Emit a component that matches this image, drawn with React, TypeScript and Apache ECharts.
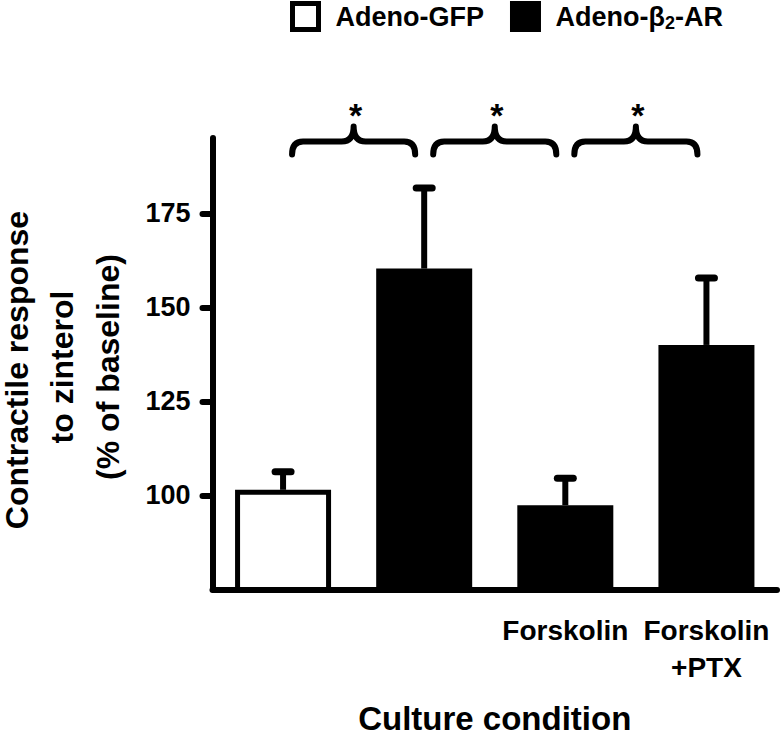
import React, { useEffect, useRef } from "react";
import * as echarts from "echarts";

const FONT = "'Liberation Sans', Arial, Helvetica, sans-serif";

const categories = ["", "", "Forskolin", "Forskolin\n+PTX"];
const seriesNames = ["Adeno-GFP", "Adeno-β2-AR"];
const gfpValues: (number | string)[] = [101.5, "-", "-", "-"];
const b2Values: (number | string)[] = ["-", 160.3, 97.4, 140.0];
const means = [101.5, 160.3, 97.4, 140.0];
const errorUpper = [106.3, 181.7, 104.6, 157.8];
const yTicks = [100, 125, 150, 175];
const comparisons = [
  [0, 1],
  [1, 2],
  [2, 3],
];
const significance = ["*", "*", "*"];
const yTitleLines = ["Contractile response", "to zinterol", "(% of baseline)"];
const xTitle = "Culture condition";

const Y_MIN = 75;
const Y_MAX = 195;
const BRACE_LEVEL = 194.1;

export default function App() {
  const ref = useRef<HTMLDivElement>(null);

  useEffect(() => {
    if (!ref.current) return;
    const chart = echarts.init(ref.current, undefined, { renderer: "svg" });

    const errorData = means.map((m, i) => [i, m, errorUpper[i]]);
    const braceData = comparisons.map(([a, b], i) => [a, b, BRACE_LEVEL, i]);

    const option: any = {
      animation: false,
      backgroundColor: "#ffffff",
      textStyle: { fontFamily: FONT },
      legend: {
        data: [
          {
            name: seriesNames[0],
            itemStyle: { color: "#ffffff", borderColor: "#000", borderWidth: 5 },
          },
          {
            name: seriesNames[1],
            itemStyle: { color: "#000", borderColor: "#000", borderWidth: 5 },
          },
        ],
        top: 1,
        left: 290,
        padding: 0,
        itemWidth: 26,
        itemHeight: 26,
        itemGap: 26,
        icon: "rect",
        itemStyle: { borderColor: "#000", borderWidth: 5 },
        formatter: (name: string) =>
          name === "Adeno-β2-AR" ? "Adeno-β{sub|2}-AR" : name,
        textStyle: {
          fontFamily: FONT,
          fontSize: 27,
          fontWeight: "bold",
          color: "#000",
          padding: [0, 0, 0, 12],
          rich: {
            sub: {
              fontFamily: FONT,
              fontSize: 18,
              fontWeight: "bold",
              color: "#000",
              verticalAlign: "bottom",
              padding: [12, 0, 0, 0],
            },
          },
        },
      },
      grid: {
        left: 212.5,
        right: 5,
        top: 138,
        bottom: 153.5,
        containLabel: false,
      },
      xAxis: {
        type: "category",
        data: categories,
        boundaryGap: true,
        name: xTitle,
        nameLocation: "middle",
        nameGap: 112,
        nameTextStyle: {
          fontFamily: FONT,
          fontSize: 33,
          fontWeight: "bold",
          color: "#000",
        },
        axisLine: {
          show: true,
          lineStyle: { color: "#000", width: 6, cap: "round" },
        },
        axisTick: { show: false },
        axisLabel: {
          interval: 0,
          margin: 22,
          fontFamily: FONT,
          fontSize: 28,
          fontWeight: "bold",
          color: "#000",
          lineHeight: 37,
        },
        splitLine: { show: false },
      },
      yAxis: {
        type: "value",
        min: Y_MIN,
        max: Y_MAX,
        interval: 25,
        axisLine: {
          show: true,
          lineStyle: { color: "#000", width: 6, cap: "round" },
        },
        axisTick: {
          show: true,
          length: 10,
          customValues: yTicks,
          lineStyle: { color: "#000", width: 6, cap: "round" },
        },
        axisLabel: {
          margin: 22,
          customValues: yTicks,
          formatter: (v: number) => (yTicks.indexOf(v) >= 0 ? String(v) : ""),
          fontFamily: FONT,
          fontSize: 27,
          fontWeight: "bold",
          color: "#000",
        },
        splitLine: { show: false },
      },
      series: [
        {
          name: seriesNames[0],
          type: "bar",
          data: gfpValues,
          barWidth: 96,
          barGap: "-100%",
          itemStyle: { color: "#ffffff", borderColor: "#000", borderWidth: 5 },
          z: 2,
        },
        {
          name: seriesNames[1],
          type: "bar",
          data: b2Values,
          barWidth: 96,
          barGap: "-100%",
          itemStyle: { color: "#000", borderColor: "#000", borderWidth: 5 },
          z: 2,
        },
        {
          type: "custom",
          name: "errors",
          data: errorData,
          encode: { x: 0, y: 2 },
          clip: false,
          z: 3,
          silent: true,
          renderItem: (params: any, api: any) => {
            const x = api.value(0);
            const m = api.value(1);
            const u = api.value(2);
            const p0 = api.coord([x, m]);
            const p1 = api.coord([x, u]);
            return {
              type: "group",
              children: [
                {
                  type: "line",
                  shape: { x1: p0[0], y1: p0[1], x2: p0[0], y2: p1[1] },
                  style: { stroke: "#000", lineWidth: 6 },
                },
                {
                  type: "line",
                  shape: { x1: p0[0] - 8, y1: p1[1], x2: p0[0] + 8, y2: p1[1] },
                  style: { stroke: "#000", lineWidth: 7, lineCap: "round" },
                },
              ],
            };
          },
        },
        {
          type: "custom",
          name: "braces",
          data: braceData,
          encode: { x: 0, y: 2 },
          clip: false,
          z: 3,
          silent: true,
          renderItem: (params: any, api: any) => {
            const a = api.value(0);
            const b = api.value(1);
            const lvl = api.value(2);
            const idx = api.value(3);
            const c1 = api.coord([a, lvl]);
            const c2 = api.coord([b, lvl]);
            const mid = (c1[0] + c2[0]) / 2;
            const half = (c2[0] - c1[0]) / 2 - 9;
            const L = mid - half;
            const R = mid + half;
            const y0 = c1[1];
            const yEnd = y0 + 13;
            const yPeak = y0 - 15;
            const r = 11;
            const d =
              `M ${L} ${yEnd} Q ${L} ${y0} ${L + r} ${y0} ` +
              `L ${mid - 12} ${y0} Q ${mid} ${y0} ${mid} ${yPeak} ` +
              `Q ${mid} ${y0} ${mid + 12} ${y0} ` +
              `L ${R - r} ${y0} Q ${R} ${y0} ${R} ${yEnd}`;
            return {
              type: "group",
              children: [
                {
                  type: "path",
                  shape: { pathData: d },
                  style: {
                    fill: "none",
                    stroke: "#000",
                    lineWidth: 6,
                    lineCap: "round",
                    lineJoin: "round",
                  },
                },
                {
                  type: "text",
                  x: mid + 2,
                  y: yPeak - 11,
                  style: {
                    text: significance[idx],
                    fontFamily: FONT,
                    fontSize: 34,
                    fontWeight: "bold",
                    fill: "#000",
                    align: "center",
                    textAlign: "center",
                    verticalAlign: "middle",
                    textVerticalAlign: "middle",
                  },
                },
              ],
            };
          },
        },
      ],
      graphic: yTitleLines.map((t, i) => ({
        type: "text",
        x: [17, 62, 108][i],
        y: [370, 367, 367][i],
        rotation: Math.PI / 2,
        style: {
          text: t,
          fontFamily: FONT,
          fontSize: 32,
          fontWeight: "bold",
          fill: "#000",
          align: "center",
          textAlign: "center",
          verticalAlign: "middle",
          textVerticalAlign: "middle",
        },
      })),
    };

    chart.setOption(option);
    return () => {
      chart.dispose();
    };
  }, []);

  return (
    <div
      ref={ref}
      style={{
        position: "fixed",
        left: 0,
        top: 0,
        width: 782,
        height: 743,
        background: "#fff",
      }}
    />
  );
}
